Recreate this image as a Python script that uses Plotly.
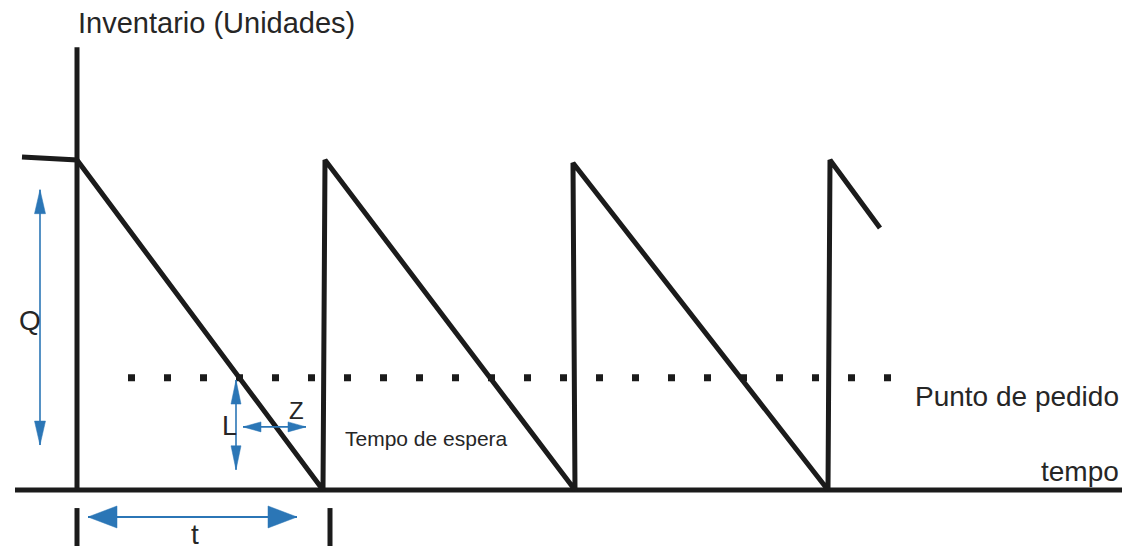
import plotly.graph_objects as go

# ---------------- data (inventory units vs time in cycles) ----------------
Q = 100                      # order quantity (peak inventory)
reorder_point = 34           # "Punto de pedido"
# sawtooth path: left stub, then drops and replenishments
saw_t = [-0.22, 0.0, 0.984, 0.992, 1.992, 1.984, 3.004, 3.012, 3.212]
saw_inv = [100.9, 100.0, 0.0, 100.0, 0.0, 99.1, 0.0, 100.0, 79.4]
reorder_t = [0.204, 3.256]   # extent of the dotted reorder line

# annotation arrows (start, end) in data units
arrow_Q = ((-0.148, 91.0), (-0.148, 13.6))
arrow_L = ((0.636, 33.3), (0.636, 6.1))
arrow_Z = ((0.664, 19.1), (0.916, 19.1))
arrow_t = ((0.044, -8.2), (0.88, -8.2))

labels = {
    "title": "Inventario (Unidades)",
    "Q": "Q", "L": "L", "Z": "Z", "t": "t",
    "lead": "Tempo de espera",
    "reorder": "Punto de pedido",
    "time": "tempo",
}

# ---------------- figure ----------------
W, H = 1135, 546
XR = [-0.308, 4.232]
YR = [-17.0, 148.5]
SX = W / (XR[1] - XR[0])      # px per x unit
SY = H / (YR[1] - YR[0])      # px per y unit

BLACK = "#1b1b1b"
BLUE = "#2b76b6"
FONT = "Liberation Sans, Arial, sans-serif"

fig = go.Figure()

def line(x, y, color=BLACK, width=5, dash=None):
    fig.add_trace(go.Scatter(x=x, y=y, mode="lines", hoverinfo="skip",
                             line=dict(color=color, width=width, dash=dash),
                             showlegend=False))

# axes drawn as lines
line([0.0, 0.0], [134.2, -0.6])                 # inventory axis
line([-0.248, 4.18], [0.0, 0.0])                # time axis
line([0.0, 0.0], [-5.5, -19])                   # lower tick marks
line([1.012, 1.012], [-5.5, -19])

# sawtooth
line(saw_t, saw_inv)

# reorder point dotted line
line(reorder_t, [reorder_point, reorder_point], width=7, dash="7px,29px")

def head(tip, back, length, half):
    # triangle with tip at `tip`, pointing away from `back`; sizes in px
    dxp = (tip[0] - back[0]) * SX
    dyp = (tip[1] - back[1]) * SY
    n = (dxp ** 2 + dyp ** 2) ** 0.5
    ux, uy = dxp / n, dyp / n
    bx, by = -ux * length, -uy * length
    px_, py_ = -uy * half, ux * half
    xs = [tip[0], tip[0] + (bx + px_) / SX, tip[0] + (bx - px_) / SX, tip[0]]
    ys = [tip[1], tip[1] + (by + py_) / SY, tip[1] + (by - py_) / SY, tip[1]]
    fig.add_trace(go.Scatter(x=xs, y=ys, mode="lines", fill="toself",
                             fillcolor=BLUE, line=dict(color=BLUE, width=0.5),
                             hoverinfo="skip", showlegend=False))

def double_arrow(a, b, length, half, width=1.6):
    line([a[0], b[0]], [a[1], b[1]], color=BLUE, width=width)
    head(a, b, length, half)
    head(b, a, length, half)

double_arrow(*arrow_Q, 24, 5.5)
double_arrow(*arrow_L, 24, 5.0)
double_arrow(*arrow_Z, 18, 5.0)
double_arrow(*arrow_t, 29, 11, width=2)

def text(x, y, s, size, xanchor="center", color="#262626"):
    fig.add_annotation(x=x, y=y, text=s, showarrow=False, xanchor=xanchor,
                       yanchor="middle", font=dict(family=FONT, size=size, color=color))

text(-0.004, 141.6, labels["title"], 29, xanchor="left")
text(-0.188, 51.5, labels["Q"], 28)
text(0.608, 19.5, labels["L"], 27)
text(0.876, 24.1, labels["Z"], 24)
text(0.472, -13.6, labels["t"], 28)
text(1.062, 15.7, labels["lead"], 21, xanchor="left")
text(4.176, 28.2, labels["reorder"], 28, xanchor="right")
text(4.176, 5.6, labels["time"], 28, xanchor="right")

fig.update_layout(
    width=W, height=H, margin=dict(l=0, r=0, t=0, b=0),
    paper_bgcolor="white", plot_bgcolor="white", showlegend=False,
    xaxis=dict(range=XR, visible=False, fixedrange=True),
    yaxis=dict(range=YR, visible=False, fixedrange=True),
)

fig.write_html("out.html", config={"displayModeBar": False},
               post_script="document.body.style.margin='0';")
